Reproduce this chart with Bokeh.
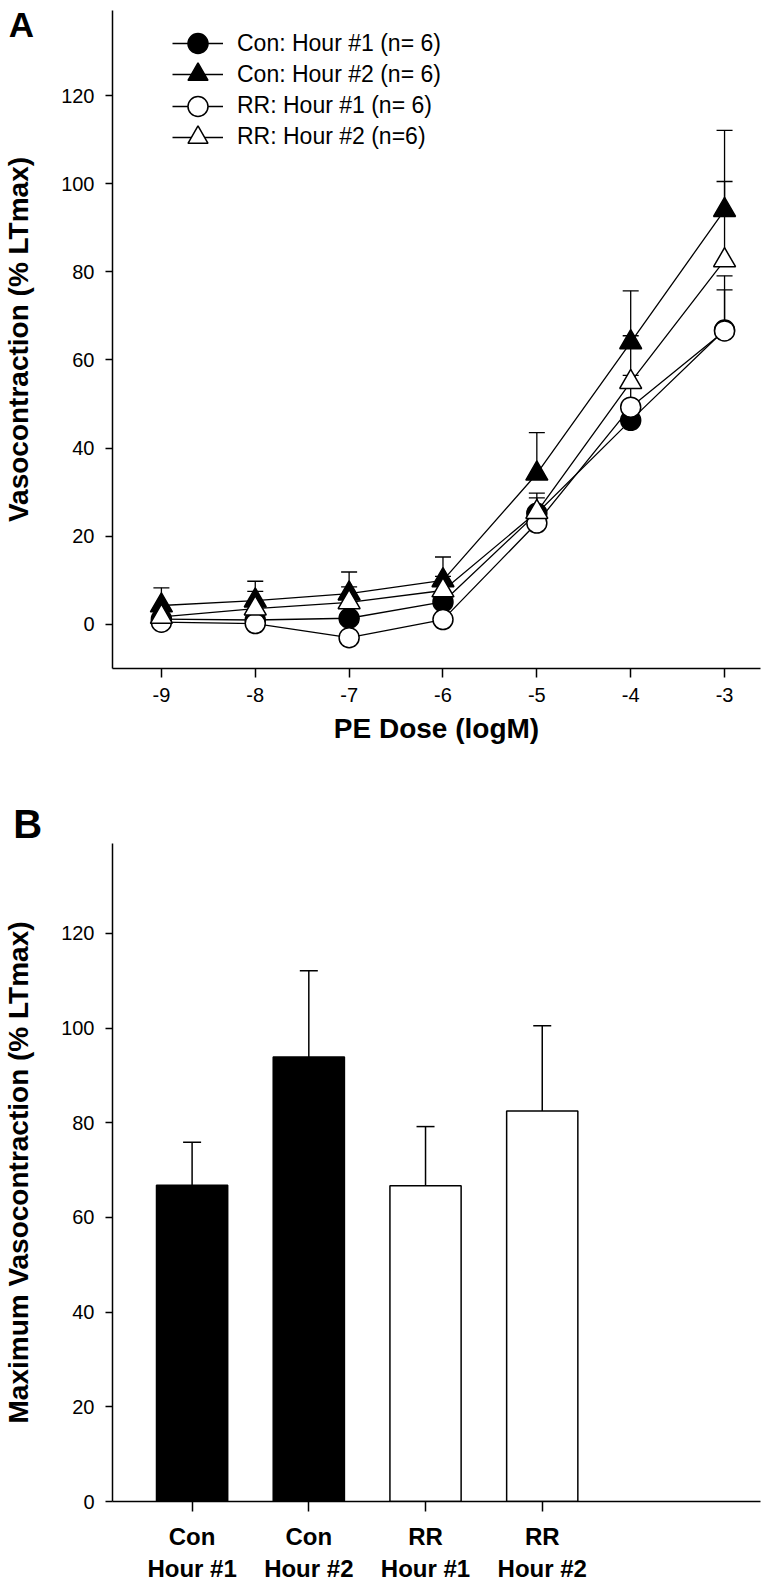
from bokeh.plotting import figure
from bokeh.models import (FixedTicker, Legend, LegendItem, Label, ColumnDataSource, Range1d)
from bokeh.layouts import column
from bokeh.embed import file_html
from bokeh.resources import INLINE

# ---------------- data: panel A ----------------
dose = [-9, -8, -7, -6, -5, -4, -3]
dose_labels = ["-9", "-8", "-7", "-6", "-5", "-4", "-3"]
con_h1 = [1.2, 1.0, 1.4, 5.1, 25.2, 46.3, 66.8]
con_h1_sem = [1.0, 1.0, 1.5, 2.0, 3.5, 2.5, 9.1]
con_h2 = [4.3, 5.4, 7.0, 10.0, 34.2, 64.0, 94.0]
con_h2_sem = [4.0, 4.4, 4.9, 5.3, 9.3, 11.7, 18.1]
rr_h1 = [0.5, 0.2, -3.0, 1.1, 23.0, 49.3, 66.6]
rr_h1_sem = [0.8, 0.8, 1.0, 1.0, 2.5, 7.2, 12.5]
rr_h2 = [1.7, 3.6, 5.0, 7.7, 25.5, 55.0, 82.6]
rr_h2_sem = [2.0, 3.9, 3.5, 3.2, 4.3, 10.5, 17.9]
series_labels = ["Con: Hour #1 (n= 6)", "Con: Hour #2 (n= 6)",
                 "RR: Hour #1 (n= 6)", "RR: Hour #2 (n=6)"]
y_ticks = [0, 20, 40, 60, 80, 100, 120]

# ---------------- data: panel B ----------------
bar_cats = ["Con\nHour #1", "Con\nHour #2", "RR\nHour #1", "RR\nHour #2"]
bar_means = [66.8, 93.9, 66.7, 82.5]
bar_sems = [9.1, 18.2, 12.5, 18.0]

FONT = "Liberation Sans"


def style(p, xlabel, ylabel):
    p.xgrid.visible = False
    p.ygrid.visible = False
    p.outline_line_color = None
    p.background_fill_color = "white"
    p.border_fill_color = "white"
    p.xaxis.axis_label = xlabel
    p.yaxis.axis_label = ylabel
    for ax in (p.xaxis[0], p.yaxis[0]):
        ax.axis_line_width = 1.5
        ax.axis_line_color = "black"
        ax.major_tick_line_width = 1.5
        ax.major_tick_line_color = "black"
        ax.major_tick_in = 0
        ax.minor_tick_line_color = None
        ax.major_label_text_font = FONT
        ax.major_label_text_font_size = "20px"
        ax.major_label_text_color = "black"
        ax.axis_label_text_font = FONT
        ax.axis_label_text_font_style = "bold"
        ax.axis_label_text_font_size = "28px"
        ax.axis_label_text_color = "black"
    p.yaxis.major_tick_out = 7
    p.yaxis.major_label_standoff = 11
    p.yaxis.axis_label_standoff = 24
    p.yaxis.ticker = FixedTicker(ticks=y_ticks)


def panel_letter(p, text, x, y, side, size):
    # data-unit position via the frame's scales; placed in a side panel so
    # that it is not clipped to the frame
    p.add_layout(Label(x=x, y=y, text=text,
                       text_font=FONT, text_font_size=size, text_font_style="bold",
                       text_color="black", text_baseline="alphabetic",
                       text_align="left"), side)


# ---------------- Panel A ----------------
A_W, A_H = 770, 798
A_L, A_R, A_T, A_B = 111, 10, 10, 130
A_FH = A_H - A_T - A_B
xA0, xA1 = -9.521, -2.617
yA0, yA1 = -10, 139.3
pA = figure(width=A_W, height=A_H, output_backend="svg", toolbar_location=None,
            x_range=Range1d(xA0, xA1), y_range=Range1d(yA0, yA1),
            min_border_left=A_L, min_border_right=A_R, min_border_top=A_T,
            min_border_bottom=A_B)
style(pA, "PE Dose (logM)", "Vasocontraction (% LTmax)")
pA.xaxis.ticker = FixedTicker(ticks=dose)
pA.xaxis.major_label_overrides = {d: s for d, s in zip(dose, dose_labels)}
pA.xaxis.major_tick_out = 9
pA.xaxis.major_label_standoff = 10
pA.xaxis.axis_label_standoff = 8

series = [(con_h1, con_h1_sem), (con_h2, con_h2_sem), (rr_h1, rr_h1_sem), (rr_h2, rr_h2_sem)]
markers = ["circle", "triangle", "circle", "triangle"]
sizes = [20, 22, 20, 22]
fills = ["black", "black", "white", "white"]

row_first, row_pitch = 33, 31.3   # legend row centres below frame top (px)
for i, ((mean, sem), label, mk, sz, fc) in enumerate(zip(series, series_labels, markers, sizes, fills)):
    top = [m + s for m, s in zip(mean, sem)]
    src = ColumnDataSource(dict(x=dose, y=mean, top=top))
    pA.segment(x0="x", y0="y", x1="x", y1="top", source=src,
               line_color="black", line_width=1.3)
    pA.scatter(x="x", y="top", marker="dash", size=16, source=src,
               line_color="black", line_width=1.3)
    lr = pA.line(x="x", y="y", source=src, line_color="black", line_width=1.3)
    sr = pA.scatter(x="x", y="y", marker=mk, size=sz, source=src,
                    fill_color=fc, line_color="black", line_width=1.5)
    centre = row_first + i * row_pitch
    leg = Legend(items=[LegendItem(label=label, renderers=[lr, sr])],
                 location=(60, A_FH - (centre + 25)), orientation="vertical",
                 glyph_width=51, glyph_height=50, label_standoff=14,
                 padding=0, margin=0, border_line_alpha=0, background_fill_alpha=0,
                 label_text_font=FONT, label_text_font_size="23px",
                 label_text_color="black")
    pA.add_layout(leg)

pxA = (A_W - A_L - A_R) / (xA1 - xA0)
pyA = A_FH / (yA1 - yA0)
panel_letter(pA, "A", xA0 - 104 / pxA, yA1 - 14 / pyA, "below", "35px")

# ---------------- Panel B ----------------
B_W, B_H = 770, 786
B_L, B_R, B_T, B_B = 111, 0, 45, 81
B_FH = B_H - B_T - B_B
xs = list(range(1, len(bar_cats) + 1))
bar_fills = ["black", "black", "white", "white"]
xB0, xB1 = 0.318, 5.87
yB0, yB1 = 0, 139
pB = figure(width=B_W, height=B_H, output_backend="svg", toolbar_location=None,
            x_range=Range1d(xB0, xB1), y_range=Range1d(yB0, yB1),
            min_border_left=B_L, min_border_right=B_R, min_border_top=B_T,
            min_border_bottom=B_B)
style(pB, "", "Maximum Vasocontraction (% LTmax)")
pB.xaxis.ticker = FixedTicker(ticks=xs)
pB.xaxis.major_label_overrides = {x: c for x, c in zip(xs, bar_cats)}
pB.xaxis.major_label_text_font = FONT
pB.xaxis.major_label_text_font_style = "bold"
pB.xaxis.major_label_text_font_size = "24px"
pB.xaxis.major_tick_out = 10
pB.xaxis.major_label_standoff = 11

bsrc = ColumnDataSource(dict(x=xs, top=bar_means,
                             etop=[m + s for m, s in zip(bar_means, bar_sems)],
                             fill=bar_fills))
pB.vbar(x="x", top="top", bottom=0, width=0.61, source=bsrc,
        fill_color="fill", line_color="black", line_width=1.5)
pB.segment(x0="x", y0="top", x1="x", y1="etop", source=bsrc,
           line_color="black", line_width=1.5)
pB.scatter(x="x", y="etop", marker="dash", size=18, source=bsrc,
           line_color="black", line_width=1.5)

pxB = (B_W - B_L - B_R) / (xB1 - xB0)
pyB = B_FH / (yB1 - yB0)
panel_letter(pB, "B", xB0 - 101 / pxB, yB1 + 20 / pyB, "above", "40px")

layout = column(pA, pB)
open("out.html", "w").write(file_html(layout, INLINE))
